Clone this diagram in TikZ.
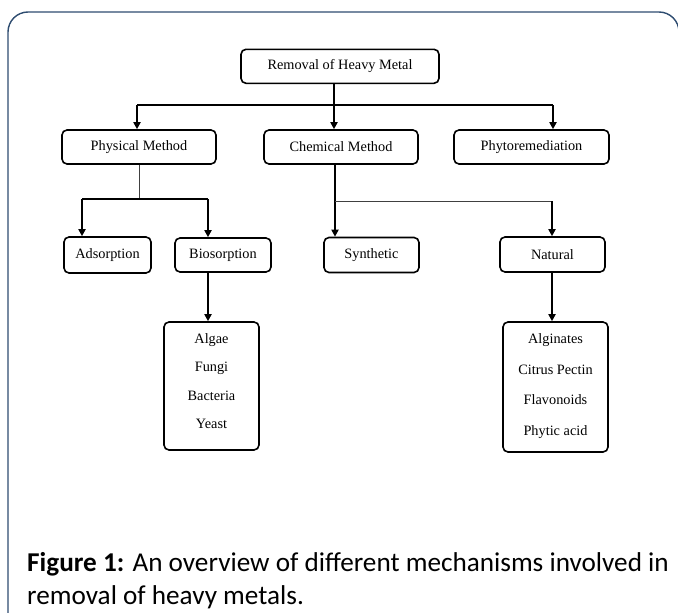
\documentclass[tikz,border=0pt]{standalone}
\usepackage{fontspec}
\setmainfont{Liberation Serif}
\newfontfamily\capfont{Carlito}
\usetikzlibrary{arrows.meta}
\definecolor{framecol}{HTML}{2E4C70}
\tikzset{
  box/.style={draw=black, line width=1.6pt, rounded corners=5pt, inner sep=0pt,
    font=\fontsize{14.3}{16}\selectfont},
  conn/.style={draw=black, line width=1.8pt},
  thinconn/.style={draw=black!75, line width=1pt},
  arr/.style={conn, -{Triangle[length=7pt,width=7pt]}},
  listtext/.style={align=center, inner sep=0pt, font=\fontsize{14.3}{28.5}\selectfont},
}
\begin{document}
\begin{tikzpicture}[x=1pt,y=-1pt]
\useasboundingbox (0,0) rectangle (678,613);
\clip (0,0) rectangle (678,613);
\draw[framecol, line width=1.4pt, rounded corners=20pt] (8,12) rectangle (679,640);

% nodes
\node[box, minimum width=198pt, minimum height=34pt] (root) at (340,66.3) {Removal of Heavy Metal};
\node[box, minimum width=154pt, minimum height=34pt] (phys) at (139,147) {Physical Method};
\node[box, minimum width=154pt, minimum height=34pt] (chem) at (341,147) {Chemical Method};
\node[box, minimum width=155pt, minimum height=34pt] (phyto) at (531.5,147) {Phytoremediation};
\node[box, minimum width=87pt, minimum height=36pt] (ads) at (107.5,255) {Adsorption};
\node[box, minimum width=96pt, minimum height=34pt] (bios) at (223,255) {Biosorption};
\node[box, minimum width=95pt, minimum height=35pt] (syn) at (371.5,255) {Synthetic};
\node[box, minimum width=105pt, minimum height=35pt] (nat) at (552.5,254.5) {Natural};
\node[box, minimum width=95pt, minimum height=128pt] (biolist) at (211.5,386) {};
\node[listtext] (biotext) at (211.5,381) {Algae\\Fungi\\Bacteria\\Yeast};
\node[box, minimum width=105pt, minimum height=130pt] (natlist) at (555.5,387) {};
\node[listtext, font=\fontsize{14.3}{30.7}\selectfont] (nattext) at (555.5,386) {Alginates\\Citrus Pectin\\Flavonoids\\Phytic acid};

% junction coordinates
\coordinate (j0) at (334,105);
\coordinate (jl) at (137,105);
\coordinate (jr) at (553,105);
\coordinate (p0) at (139,199);
\coordinate (pl) at (82,199);
\coordinate (pr) at (208,199);
\coordinate (c0) at (335,201);
\coordinate (cr) at (552,201);

% connectors
\draw[conn] (root.south -| j0) -- (j0);
\draw[conn] (jl) -- (jr);
\draw[arr] (jl) -- (jl |- phys.north);
\draw[arr] (j0) -- (j0 |- chem.north);
\draw[arr] (jr) -- (jr |- phyto.north);

\draw[thinconn] (phys.south -| p0) -- (p0);
\draw[conn] (pl) -- (pr);
\draw[arr] (pl) -- (pl |- ads.north);
\draw[arr] (pr) -- (pr |- bios.north);
\draw[arr] (bios.south -| pr) -- (pr |- biolist.north);

\draw[arr] (chem.south -| c0) -- (c0 |- syn.north);
\draw[thinconn] (c0) -- (cr);
\draw[arr] (cr) -- (cr |- nat.north);
\draw[arr] (nat.south -| cr) -- (cr |- natlist.north);

% caption
\node[anchor=west, align=left, inner sep=0pt, font=\capfont\fontsize{27.2}{33.5}\selectfont] (cap) at (27,580.5)
  {\textbf{Figure 1:} An overview of different mechanisms involved in\\removal of heavy metals.};
\end{tikzpicture}
\end{document}
